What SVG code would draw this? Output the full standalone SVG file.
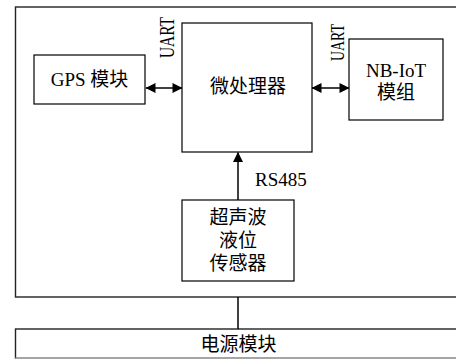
<svg xmlns="http://www.w3.org/2000/svg" width="456" height="359" viewBox="0 0 456 359">
<style>
.box{fill:#fff;stroke:#000;stroke-width:1.2}
.t{font-family:"Liberation Serif","Noto Sans CJK SC",serif;font-size:19px;fill:#000;text-anchor:middle}
.line{stroke:#000;stroke-width:1.5;fill:none}
</style>
<defs>
<marker id="ah" viewBox="0 0 10 10" refX="9.5" refY="5" markerWidth="11" markerHeight="10" markerUnits="userSpaceOnUse" orient="auto-start-reverse">
<path d="M0,0 L10,5 L0,10 Z" fill="#000"/>
</marker>
</defs>
<g id="outer"><rect x="15.5" y="7" width="460" height="290" fill="#fff" stroke="#222" stroke-width="1.4"/></g>
<g id="gps"><rect class="box" x="34" y="55" width="111" height="49"/><text class="t" x="89.5" y="86">GPS 模块</text></g>
<g id="mcu"><rect class="box" x="182" y="23" width="130" height="129"/><text class="t" x="248" y="93">微处理器</text></g>
<g id="nbiot"><rect class="box" x="349" y="39" width="94" height="81"/><text class="t" x="396" y="77">NB-IoT</text><text class="t" x="396" y="99">模组</text></g>
<g id="sensor"><rect class="box" x="182" y="200" width="112" height="81"/><text class="t" x="238" y="224">超声波</text><text class="t" x="238" y="247">液位</text><text class="t" x="238" y="270">传感器</text></g>
<g id="power"><rect x="15.5" y="329" width="460" height="29" fill="#fff" stroke="#222" stroke-width="1.4"/><line x1="15.5" y1="358" x2="456" y2="358" stroke="#bbb" stroke-width="1.4"/><text class="t" x="238.5" y="351">电源模块</text></g>
<g id="connectors">
<line class="line" x1="146" y1="88" x2="182" y2="88" marker-start="url(#ah)" marker-end="url(#ah)"/>
<line class="line" x1="312" y1="88" x2="349" y2="88" marker-start="url(#ah)" marker-end="url(#ah)"/>
<line class="line" x1="238" y1="200" x2="238" y2="152.5" marker-end="url(#ah)"/>
<line class="line" x1="238" y1="297" x2="238" y2="329"/>
<text class="t" style="text-anchor:start;font-size:20px" transform="translate(174,58) rotate(-90)" textLength="41" lengthAdjust="spacingAndGlyphs">UART</text>
<text class="t" style="text-anchor:start;font-size:19px" transform="translate(344,61) rotate(-90)" textLength="37" lengthAdjust="spacingAndGlyphs">UART</text>
<text class="t" style="text-anchor:start" x="255" y="186">RS485</text>
</g>
</svg>
